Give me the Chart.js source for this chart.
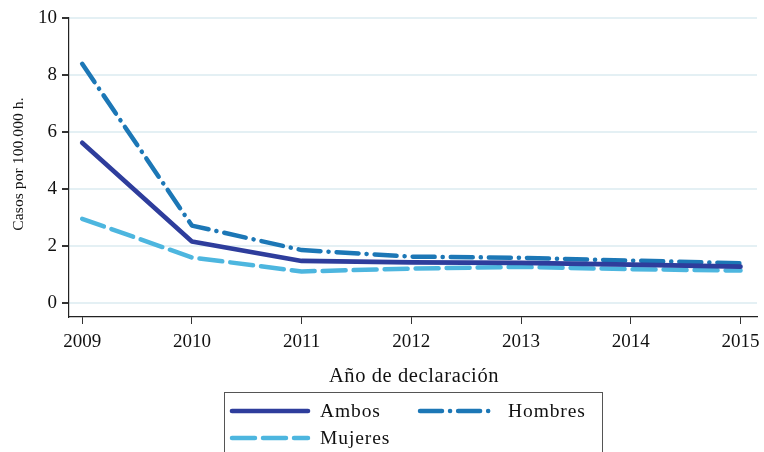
<!DOCTYPE html>
<html>
<head>
<meta charset="utf-8">
<script src="https://cdn.jsdelivr.net/npm/chart.js@4"></script>
<style>
  html, body { margin: 0; padding: 0; background: #fff; }
  #wrap { width: 764px; height: 452px; }
</style>
</head>
<body>
<div id="wrap"><canvas id="chart" width="764" height="452"></canvas></div>
<script>
const years = [2009, 2010, 2011, 2012, 2013, 2014, 2015];
const ambos = [5.62, 2.15, 1.47, 1.42, 1.40, 1.34, 1.27];
const hombres = [8.39, 2.71, 1.85, 1.62, 1.58, 1.48, 1.39];
const mujeres = [2.95, 1.59, 1.10, 1.20, 1.26, 1.18, 1.13];
const yTicks = [0, 2, 4, 6, 8, 10];
const labels = ['Ambos', 'Hombres', 'Mujeres'];
const xTitle = 'Año de declaración';
const yTitle = 'Casos por 100.000 h.';

const serif = "'Liberation Serif', 'Times New Roman', serif";

function points(vals) {
    return years.map((y, i) => ({ x: y, y: vals[i] }));
}

// axis titles + framed two-column legend (the original font is wider, so a bit of letter spacing)
const extras = {
    id: 'extras',
    afterDraw(chart) {
        const ctx = chart.ctx;
        const area = chart.chartArea;
        ctx.save();
        ctx.fillStyle = '#111';
        ctx.textAlign = 'center';
        ctx.textBaseline = 'middle';

        ctx.font = "20.5px " + serif;
        ctx.letterSpacing = '0.6px';
        ctx.fillText(xTitle, (area.left + area.right) / 2 + 1, 377);

        ctx.save();
        ctx.translate(19, 164);
        ctx.rotate(-Math.PI / 2);
        ctx.font = "15.5px " + serif;
        ctx.letterSpacing = '0.1px';
        ctx.fillText(yTitle, 0, 0);
        ctx.restore();

        ctx.strokeStyle = '#555';
        ctx.lineWidth = 1;
        ctx.strokeRect(224.5, 392.5, 378, 80);
        const spots = [
            { x: 232, y: 411 },
            { x: 420, y: 411 },
            { x: 232, y: 438 }
        ];
        ctx.textAlign = 'left';
        chart.data.datasets.forEach((ds, i) => {
            const p = spots[i];
            ctx.strokeStyle = ds.borderColor;
            ctx.lineWidth = ds.borderWidth;
            ctx.lineCap = 'round';
            ctx.setLineDash(ds.borderDash || []);
            ctx.beginPath();
            ctx.moveTo(p.x, p.y);
            ctx.lineTo(p.x + 76, p.y);
            ctx.stroke();
            ctx.setLineDash([]);
            ctx.font = "19.5px " + serif;
            ctx.letterSpacing = '0.9px';
            ctx.fillText(ds.label, p.x + 88, p.y + 1);
        });
        ctx.restore();
    }
};

new Chart(document.getElementById('chart').getContext('2d'), {
    type: 'line',
    data: {
        datasets: [{
            label: labels[0],
            data: points(ambos),
            borderColor: '#2e3d9c',
            borderWidth: 4.6,
            borderCapStyle: 'round',
            borderJoinStyle: 'round',
            pointRadius: 0,
            tension: 0
        }, {
            label: labels[1],
            data: points(hombres),
            borderColor: '#1c77b6',
            borderWidth: 4.5,
            borderDash: [22, 8, 0.1, 8],
            borderCapStyle: 'round',
            borderJoinStyle: 'round',
            pointRadius: 0,
            tension: 0
        }, {
            label: labels[2],
            data: points(mujeres),
            borderColor: '#4db6df',
            borderWidth: 4.5,
            borderDash: [23, 8],
            borderCapStyle: 'round',
            borderJoinStyle: 'round',
            pointRadius: 0,
            tension: 0
        }]
    },
    options: {
        responsive: false,
        animation: false,
        layout: { padding: { top: 18, right: 7, bottom: 60, left: 0 } },
        plugins: {
            legend: { display: false },
            tooltip: { enabled: false }
        },
        scales: {
            x: {
                type: 'linear',
                min: 2008.88,
                max: 2015.15,
                afterBuildTicks: s => { s.ticks = years.map(v => ({ value: v })); },
                afterFit: s => { s.height = 75; s.paddingLeft = 0; s.paddingRight = 0; },
                grid: { drawOnChartArea: false, color: '#333', tickLength: 7 },
                border: { color: '#222', width: 1.2 },
                ticks: {
                    color: '#111',
                    font: { family: serif, size: 19 },
                    padding: 7,
                    maxRotation: 0,
                    callback: v => String(v)
                }
            },
            y: {
                min: -0.5,
                max: 10,
                afterBuildTicks: s => { s.ticks = yTicks.map(v => ({ value: v })); },
                afterFit: s => { s.width = 69; s.paddingTop = 0; s.paddingBottom = 0; },
                grid: { color: '#e4f0f4', lineWidth: 2, tickColor: '#333', tickLength: 7 },
                border: { color: '#222', width: 1.2 },
                ticks: {
                    color: '#111',
                    font: { family: serif, size: 19 },
                    padding: 5
                }
            }
        }
    },
    plugins: [extras]
});
</script>
</body>
</html>
